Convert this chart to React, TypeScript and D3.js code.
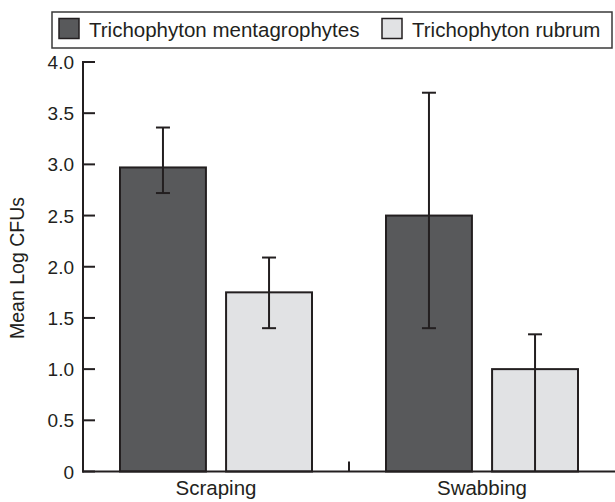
import React from "react";
import * as d3 from "d3";

const categories = ["Scraping", "Swabbing"];
const seriesNames = ["Trichophyton mentagrophytes", "Trichophyton rubrum"];
const seriesColors = ["#58595b", "#e1e2e4"];
const means = [
  [2.97, 2.5],
  [1.75, 1.0],
];
const errLow = [
  [2.72, 1.4],
  [1.4, 0.0],
];
const errHigh = [
  [3.36, 3.7],
  [2.09, 1.34],
];
const yTicks = [0, 0.5, 1.0, 1.5, 2.0, 2.5, 3.0, 3.5, 4.0];
const yTickLabels = ["0", "0.5", "1.0", "1.5", "2.0", "2.5", "3.0", "3.5", "4.0"];

const W = 615;
const H = 502;
const axisX = 83;
const right = 615;
const y0 = 471.5;
const yTop = 62;
const ink = "#231f20";
const font = "'Liberation Sans', Arial, Helvetica, sans-serif";

export default function App() {
  const y = d3.scaleLinear().domain([0, 4]).range([y0, yTop]);
  const x0 = d3.scaleBand<string>().domain(categories).range([axisX, right]);
  const x1 = d3
    .scaleBand<string>()
    .domain(seriesNames)
    .range([37, 229])
    .paddingInner(0.19);
  const capW = 14;

  const legendX = [59, 382];
  return (
    <svg
      width={W}
      height={H}
      style={{ position: "absolute", left: 0, top: 0, background: "#fff" }}
      fontFamily={font}
    >
      {/* legend */}
      <rect x={52} y={12} width={560} height={36} fill="none" stroke="#3a3a3a" strokeWidth={1.5} />
      {seriesNames.map((s, i) => (
        <g key={s}>
          <rect
            x={legendX[i]}
            y={18.5}
            width={20}
            height={20}
            fill={seriesColors[i]}
            stroke={ink}
            strokeWidth={1.5}
          />
          <text x={legendX[i] + 30} y={37} fontSize={20.5} fill={ink}>
            {s}
          </text>
        </g>
      ))}

      {/* bars */}
      {categories.map((c, ci) => (
        <g key={c} transform={`translate(${x0(c)},0)`}>
          {seriesNames.map((s, si) => {
            const bx = x1(s)!;
            const bw = x1.bandwidth();
            const v = means[si][ci];
            const cx = bx + bw / 2;
            const lo = Math.max(0, errLow[si][ci]);
            const hi = errHigh[si][ci];
            return (
              <g key={s}>
                <rect
                  x={bx}
                  y={y(v)}
                  width={bw}
                  height={y0 - y(v)}
                  fill={seriesColors[si]}
                  stroke={ink}
                  strokeWidth={2}
                />
                <line x1={cx} x2={cx} y1={y(hi)} y2={y(lo)} stroke={ink} strokeWidth={2} />
                <line x1={cx - capW / 2} x2={cx + capW / 2} y1={y(hi)} y2={y(hi)} stroke={ink} strokeWidth={2} />
                {lo > 0 ? (
                  <line x1={cx - capW / 2} x2={cx + capW / 2} y1={y(lo)} y2={y(lo)} stroke={ink} strokeWidth={2} />
                ) : null}
              </g>
            );
          })}
        </g>
      ))}

      {/* y axis */}
      <line x1={axisX} x2={axisX} y1={yTop - 1} y2={y0 + 1} stroke={ink} strokeWidth={2} />
      {yTicks.map((t, i) => (
        <g key={t}>
          <line x1={axisX} x2={axisX + 12} y1={y(t)} y2={y(t)} stroke={ink} strokeWidth={2} />
          <text x={74} y={y(t) + 7} fontSize={19} textAnchor="end" fill={ink}>
            {yTickLabels[i]}
          </text>
        </g>
      ))}
      <text
        transform={`translate(24,268) rotate(-90)`}
        fontSize={19.5}
        textAnchor="middle"
        fill={ink}
      >
        Mean Log CFUs
      </text>

      {/* x axis */}
      <line x1={axisX - 1} x2={right} y1={y0} y2={y0} stroke={ink} strokeWidth={2} />
      {categories.slice(1).map((c) => (
        <line key={c} x1={x0(c)} x2={x0(c)} y1={y0} y2={y0 - 10} stroke={ink} strokeWidth={2} />
      ))}
      {categories.map((c) => (
        <text
          key={c}
          x={x0(c)! + x0.bandwidth() / 2}
          y={495}
          fontSize={20.5}
          textAnchor="middle"
          fill={ink}
        >
          {c}
        </text>
      ))}
    </svg>
  );
}
